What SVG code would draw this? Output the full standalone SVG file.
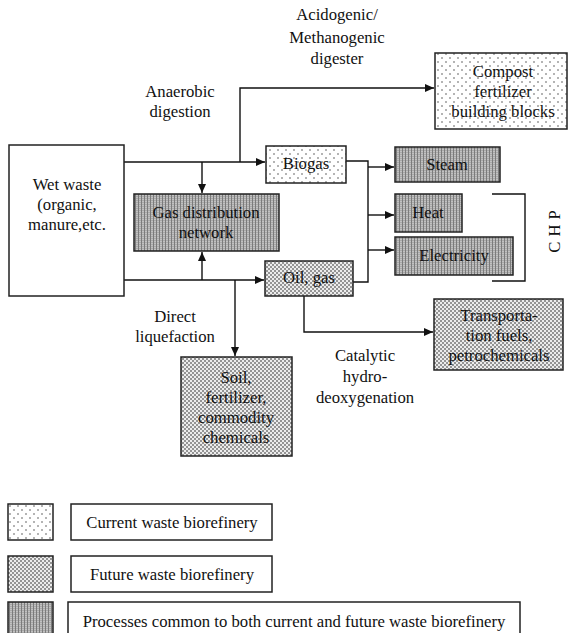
<svg xmlns="http://www.w3.org/2000/svg" width="570" height="633" viewBox="0 0 570 633">
  <defs>
    <!-- sparse dot fill: current waste biorefinery -->
    <pattern id="pDots" width="8" height="8" patternUnits="userSpaceOnUse">
      <rect width="8" height="8" fill="#ffffff"/>
      <circle cx="2" cy="2" r="0.8" fill="#555"/>
      <circle cx="6" cy="6" r="0.8" fill="#555"/>
    </pattern>
    <!-- dense checker fill: future waste biorefinery -->
    <pattern id="pCheck" width="4" height="4" patternUnits="userSpaceOnUse">
      <rect width="4" height="4" fill="#ececec"/>
      <rect x="0" y="0" width="2" height="2" fill="#949494"/>
      <rect x="2" y="2" width="2" height="2" fill="#949494"/>
    </pattern>
    <!-- vertical-line fill: common processes -->
    <pattern id="pLines" width="3" height="2" patternUnits="userSpaceOnUse">
      <rect width="3" height="2" fill="#c2c2c2"/>
      <rect x="0" y="0" width="1" height="2" fill="#7c7c7c"/>
      <rect x="1" y="0" width="2" height="1" fill="#a9a9a9"/>
    </pattern>
    <marker id="arrow" markerWidth="10" markerHeight="10" refX="9" refY="5" orient="auto" markerUnits="userSpaceOnUse">
      <path d="M0,1 L9,5 L0,9 Z" fill="#111"/>
    </marker>
  </defs>
  <style>
    text { font-family: "Liberation Serif", "Times New Roman", serif; font-size: 16.7px; fill: #111; text-anchor: middle; }
    .box { stroke: #222; stroke-width: 1.5; }
    .plain { fill: #ffffff; }
    .cur { fill: url(#pDots); }
    .fut { fill: url(#pCheck); }
    .com { fill: url(#pLines); }
    .conn { fill: none; stroke: #111; stroke-width: 1.4; }
    .arr { marker-end: url(#arrow); }
  </style>

  <rect width="570" height="633" fill="#ffffff"/>

  <!-- connectors -->
  <g id="connectors">
    <path class="conn arr" d="M124,162 H265"/>
    <path class="conn arr" d="M240,162 V88 H434"/>
    <path class="conn arr" d="M202,162 V193"/>
    <path class="conn arr" d="M124,280 H264"/>
    <path class="conn arr" d="M202,280 V252"/>
    <path class="conn arr" d="M235,280 V356"/>
    <path class="conn" d="M346,161 H368 V282 H353"/>
    <path class="conn arr" d="M368,167 H394"/>
    <path class="conn arr" d="M368,215 H394"/>
    <path class="conn arr" d="M368,250 H394"/>
    <path class="conn arr" d="M304,296 V332 H433"/>
    <path class="conn" d="M492,194 H525 V281 H492"/>
  </g>

  <!-- process labels -->
  <g id="labels">
    <text x="337" y="20">Acidogenic/</text>
    <text x="337" y="43">Methanogenic</text>
    <text x="337" y="64">digester</text>
    <text x="180" y="97">Anaerobic</text>
    <text x="180" y="117">digestion</text>
    <text x="175" y="322">Direct</text>
    <text x="175" y="342">liquefaction</text>
    <text x="365" y="361">Catalytic</text>
    <text x="365" y="382">hydro-</text>
    <text x="365" y="403">deoxygenation</text>
    <text x="0" y="0" transform="translate(560,229) rotate(-90)" letter-spacing="5">CHP</text>
  </g>

  <g id="wet-waste">
    <rect class="box plain" x="9" y="145" width="115" height="151"/>
    <text x="67" y="190">Wet waste</text>
    <text x="67" y="210">(organic,</text>
    <text x="67" y="230">manure,etc.</text>
  </g>

  <g id="compost">
    <rect class="box cur" x="435" y="53" width="132" height="76"/>
    <text x="503" y="77">Compost</text>
    <text x="503" y="97">fertilizer</text>
    <text x="503" y="117">building blocks</text>
  </g>

  <g id="biogas">
    <rect class="box cur" x="266" y="146" width="80" height="37"/>
    <text x="306" y="169">Biogas</text>
  </g>

  <g id="gas-network">
    <rect class="box com" x="134" y="194" width="145" height="57"/>
    <text x="206" y="218">Gas distribution</text>
    <text x="206" y="238">network</text>
  </g>

  <g id="oil-gas">
    <rect class="box fut" x="265" y="261" width="88" height="35"/>
    <text x="309" y="283">Oil, gas</text>
  </g>

  <g id="steam">
    <rect class="box com" x="395" y="147" width="105" height="35"/>
    <text x="447" y="170">Steam</text>
  </g>

  <g id="heat">
    <rect class="box com" x="395" y="194" width="67" height="38"/>
    <text x="428" y="218">Heat</text>
  </g>

  <g id="electricity">
    <rect class="box com" x="395" y="237" width="118" height="38"/>
    <text x="454" y="261">Electricity</text>
  </g>

  <g id="transport">
    <rect class="box fut" x="434" y="299" width="129" height="71"/>
    <text x="499" y="321">Transporta-</text>
    <text x="499" y="341">tion fuels,</text>
    <text x="499" y="361">petrochemicals</text>
  </g>

  <g id="soil">
    <rect class="box fut" x="181" y="357" width="111" height="99"/>
    <text x="236" y="383">Soil,</text>
    <text x="236" y="403">fertilizer,</text>
    <text x="236" y="423">commodity</text>
    <text x="236" y="443">chemicals</text>
  </g>

  <!-- legend -->
  <g id="legend-current">
    <rect class="box cur" x="8" y="504" width="45" height="36"/>
    <rect class="box plain" x="71" y="504" width="201" height="36"/>
    <text x="172" y="528">Current waste biorefinery</text>
  </g>
  <g id="legend-future">
    <rect class="box fut" x="8" y="556" width="45" height="36"/>
    <rect class="box plain" x="71" y="556" width="201" height="36"/>
    <text x="172" y="580">Future waste biorefinery</text>
  </g>
  <g id="legend-common">
    <rect class="box com" x="8" y="602" width="45" height="40"/>
    <rect class="box plain" x="68" y="602" width="452" height="40"/>
    <text x="294" y="627">Processes common to both current and future waste biorefinery</text>
  </g>
</svg>
